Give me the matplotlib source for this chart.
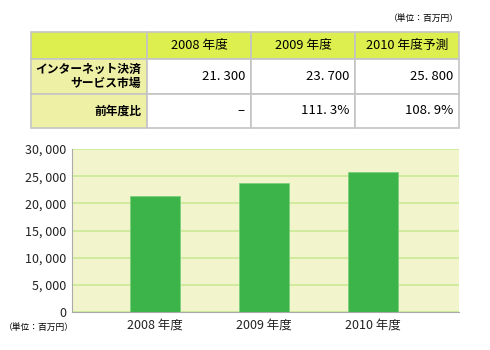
import matplotlib
matplotlib.use("Agg")
import matplotlib.pyplot as plt
from matplotlib.patches import Rectangle
from matplotlib.ticker import FuncFormatter

plt.rcParams['font.family'] = ['Noto Sans CJK JP', 'DejaVu Sans']

# data
years = ["2008 年度", "2009 年度", "2010 年度"]
header = ["", "2008 年度", "2009 年度", "2010 年度予測"]
row_labels = ["インターネット決済\nサービス市場", "前年度比"]
market = [21300, 23700, 25800]
market_txt = ["21. 300", "23. 700", "25. 800"]
ratio_txt = ["–", "111. 3%", "108. 9%"]
unit = "（単位：百万円）"

W, H = 490, 350
fig = plt.figure(figsize=(W / 100, H / 100), dpi=100)

def box(x0, y0, x1, y1):
    # pixel box -> figure fraction
    return [x0 / W, 1 - y1 / H, (x1 - x0) / W, (y1 - y0) / H]

# ---- table ----
col_x = [31, 147, 251, 355, 459]
row_y = [32, 59, 94, 128]
tax = fig.add_axes(box(0, 0, W, H))
tax.set_xlim(0, W)
tax.set_ylim(H, 0)
tax.axis('off')

head_col = '#dcef4e'
side_col = '#eef0a6'
edge = '#c4c4c4'
rows = [header, [row_labels[0]] + market_txt, [row_labels[1]] + ratio_txt]
for r in range(3):
    for c in range(4):
        x0, x1 = col_x[c], col_x[c + 1]
        y0, y1 = row_y[r], row_y[r + 1]
        fc = head_col if r == 0 else (side_col if c == 0 else 'white')
        tax.add_patch(Rectangle((x0, y0), x1 - x0, y1 - y0, fc=fc, ec=edge, lw=1.2))
        txt = rows[r][c]
        if not txt:
            continue
        ym = (y0 + y1) / 2
        if r == 0:
            tax.text((x0 + x1) / 2, ym, txt, ha='center', va='center', fontsize=9.2)
        elif c == 0:
            tax.text(x1 - 6, ym, txt, ha='right', va='center', fontsize=8.5,
                     fontweight='bold', linespacing=1.05)
        else:
            tax.text(x1 - 6, ym, txt, ha='right', va='center', fontsize=9.5)

tax.text(459, 18, unit, ha='right', va='center', fontsize=6.3)
tax.text(4, 327, unit, ha='left', va='center', fontsize=6.3)

# ---- bar chart ----
ax = fig.add_axes(box(72, 149, 459, 312))
ax.set_facecolor('#f2f5cc')
xs = range(len(years))
ax.bar(xs, market, width=0.46, color='#3db44a', edgecolor='#7cd07f', linewidth=0.6, zorder=3)
ax.set_xlim(-0.76, 2.79)
ax.set_ylim(0, 30000)
ax.set_yticks(range(0, 30001, 5000))
ax.yaxis.set_major_formatter(FuncFormatter(lambda v, p: f"{int(v):,}".replace(",", ", ")))
ax.grid(axis='y', color='#cdeb98', linewidth=1.3, zorder=1)
ax.set_xticks(list(xs))
ax.set_xticklabels(years)
ax.tick_params(length=0, labelsize=9, colors='#222222')
ax.tick_params(axis='y', pad=4)
ax.tick_params(axis='x', pad=5)
for s in ['top', 'right']:
    ax.spines[s].set_visible(False)
ax.spines['left'].set_color('#aaaaaa')
ax.spines['bottom'].set_color('#aaaaaa')

fig.savefig('out.png', dpi=100)
